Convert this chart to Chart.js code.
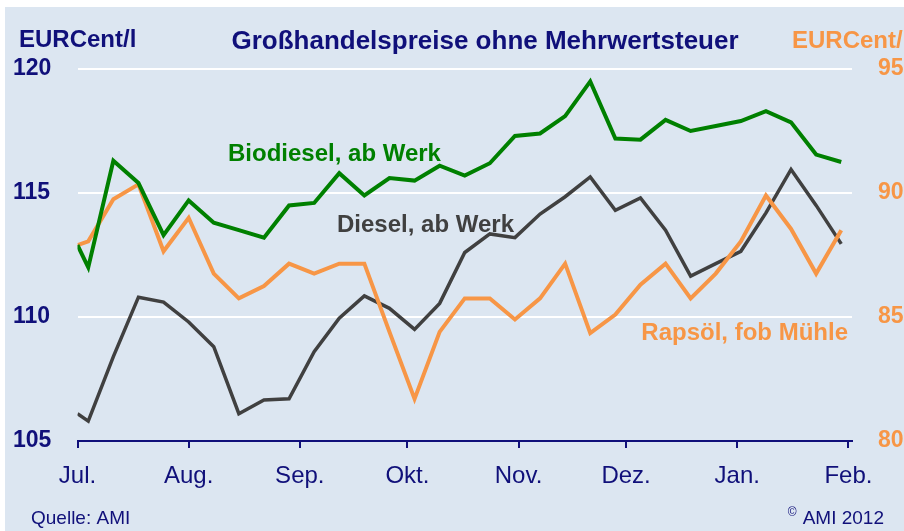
<!DOCTYPE html>
<html>
<head>
<meta charset="utf-8">
<script src="https://cdn.jsdelivr.net/npm/chart.js@4"></script>
<style>
  html, body { margin: 0; padding: 0; background: #fff; }
  #wrap { width: 904px; height: 531px; }
</style>
</head>
<body>
<div id="wrap"><canvas id="myChart" width="904" height="531"></canvas></div>
<script>
// Weekly quotes, first value sits on the left edge (1 July)
const weeks = [
    '2011-07-01', '2011-07-04', '2011-07-11', '2011-07-18', '2011-07-25',
    '2011-08-01', '2011-08-08', '2011-08-15', '2011-08-22', '2011-08-29',
    '2011-09-05', '2011-09-12', '2011-09-19', '2011-09-26',
    '2011-10-03', '2011-10-10', '2011-10-17', '2011-10-24', '2011-10-31',
    '2011-11-07', '2011-11-14', '2011-11-21', '2011-11-28',
    '2011-12-05', '2011-12-12', '2011-12-19', '2011-12-26',
    '2012-01-02', '2012-01-09', '2012-01-16', '2012-01-23', '2012-01-30'
];
const biodiesel = [
    112.9, 112.0, 116.3, 115.4, 113.3, 114.7, 113.8, 113.5, 113.2, 114.5,
    114.6, 115.8, 114.9, 115.6, 115.5, 116.1, 115.7, 116.2, 117.3, 117.4,
    118.1, 119.5, 117.2, 117.15, 117.95, 117.5, 117.7, 117.9, 118.3, 117.85,
    116.55, 116.25
];
const diesel = [
    106.1, 105.8, 108.4, 110.8, 110.6, 109.8, 108.8, 106.1, 106.65, 106.7,
    108.6, 109.95, 110.85, 110.35, 109.5, 110.55, 112.6, 113.35, 113.2, 114.15,
    114.85, 115.65, 114.3, 114.8, 113.5, 111.65, 112.15, 112.65, 114.2, 115.95,
    114.5, 112.95
];
const rapsoel = [
    87.9, 88.05, 89.75, 90.35, 87.65, 89.0, 86.75, 85.75, 86.25, 87.15,
    86.75, 87.15, 87.15, 84.4, 81.7, 84.4, 85.75, 85.75, 84.9, 85.75,
    87.15, 84.35, 85.1, 86.3, 87.15, 85.75, 86.75, 88.05, 89.9, 88.55,
    86.75, 88.5
];
const monthStarts = ['2011-07-01', '2011-08-01', '2011-09-01', '2011-10-01',
    '2011-11-01', '2011-12-01', '2012-01-01', '2012-02-01'];
const monthLabels = ['Jul.', 'Aug.', 'Sep.', 'Okt.', 'Nov.', 'Dez.', 'Jan.', 'Feb.'];
const leftTicks = [105, 110, 115, 120];
const rightTicks = [80, 85, 90, 95];

const NAVY = '#10107a';
const GREEN = '#008000';
const ORANGE = '#f79646';
const GREY = '#404040';
const FONT = '"Liberation Sans", Arial, sans-serif';

const day0 = Date.parse(weeks[0]);
const toDay = s => (Date.parse(s) - day0) / 864e5;
const monthDays = monthStarts.map(toDay);
const pts = arr => arr.map((v, i) => ({ x: toDay(weeks[i]), y: v }));

const texts = {
    id: 'texts',
    beforeDraw(chart) {
        const c = chart.ctx;
        c.save();
        c.fillStyle = '#ffffff';
        c.fillRect(0, 0, chart.width, chart.height);
        c.fillStyle = '#dce6f1';
        c.fillRect(5, 7, chart.width - 5, chart.height - 7);
        c.restore();
    },
    afterDraw(chart) {
        const c = chart.ctx;
        c.save();
        c.textBaseline = 'middle';
        c.textAlign = 'center';
        c.fillStyle = NAVY;
        c.font = 'bold 26px ' + FONT;
        c.fillText('Großhandelspreise ohne Mehrwertsteuer', 485, 42);

        c.textAlign = 'left';
        c.font = 'bold 24px ' + FONT;
        c.fillText('EURCent/l', 19, 40);
        c.fillStyle = ORANGE;
        c.fillText('EURCent/l', 792, 41);

        // series names
        c.textBaseline = 'alphabetic';
        c.fillStyle = GREEN;
        c.fillText('Biodiesel, ab Werk', 228, 161);
        c.fillStyle = GREY;
        c.fillText('Diesel, ab Werk', 337, 232);
        c.fillStyle = ORANGE;
        c.textAlign = 'right';
        c.fillText('Rapsöl, fob Mühle', 848, 340);

        // source line
        c.textBaseline = 'middle';
        c.fillStyle = NAVY;
        c.font = '19px ' + FONT;
        c.textAlign = 'left';
        c.fillText('Quelle: AMI', 31, 519);
        c.textAlign = 'right';
        c.fillText('AMI 2012', 884, 519);
        const w = c.measureText('AMI 2012').width;
        c.font = '12px ' + FONT;
        c.fillText('©', 884 - w - 6, 513);
        c.restore();
    }
};

const ctx = document.getElementById('myChart');
const myChart = new Chart(ctx, {
    type: 'line',
    data: {
        datasets: [{
            label: 'Biodiesel, ab Werk',
            data: pts(biodiesel),
            yAxisID: 'y',
            borderColor: GREEN,
            borderWidth: 4
        }, {
            label: 'Rapsöl, fob Mühle',
            data: pts(rapsoel),
            yAxisID: 'y1',
            borderColor: ORANGE,
            borderWidth: 4
        }, {
            label: 'Diesel, ab Werk',
            data: pts(diesel),
            yAxisID: 'y',
            borderColor: GREY,
            borderWidth: 3.5
        }]
    },
    options: {
        responsive: false,
        animation: false,
        layout: { padding: { left: 13, top: 69, right: 0, bottom: 0 } },
        elements: {
            point: { radius: 0 },
            line: { tension: 0, borderJoinStyle: 'miter', fill: false }
        },
        plugins: {
            legend: { display: false },
            tooltip: { enabled: false }
        },
        scales: {
            x: {
                type: 'linear',
                min: 0,
                max: 216,
                afterBuildTicks: scale => {
                    scale.ticks = monthDays.map(v => ({ value: v }));
                },
                afterFit: scale => { scale.height = 90; },
                grid: {
                    drawOnChartArea: false,
                    color: NAVY,
                    lineWidth: 2,
                    tickLength: 7
                },
                border: { color: NAVY, width: 2 },
                ticks: {
                    autoSkip: false,
                    maxRotation: 0,
                    padding: 14,
                    color: NAVY,
                    font: { family: FONT, size: 24 },
                    callback: value => monthLabels[monthDays.indexOf(value)]
                }
            },
            y: {
                position: 'left',
                min: 105,
                max: 120,
                afterBuildTicks: scale => {
                    scale.ticks = leftTicks.map(v => ({ value: v }));
                },
                afterFit: scale => { scale.width = 64.5; },
                grid: {
                    color: c => (c.tick && c.tick.value === 105 ? 'rgba(0,0,0,0)' : '#ffffff'),
                    lineWidth: 2,
                    drawTicks: false
                },
                border: { display: false },
                ticks: {
                    crossAlign: 'far',
                    color: NAVY,
                    font: { family: FONT, size: 23, weight: 'bold' }
                }
            },
            y1: {
                position: 'right',
                min: 80,
                max: 95,
                afterBuildTicks: scale => {
                    scale.ticks = rightTicks.map(v => ({ value: v }));
                },
                afterFit: scale => { scale.width = 52; },
                grid: { display: false, drawTicks: false },
                border: { display: false },
                ticks: {
                    crossAlign: 'near',
                    padding: 26,
                    color: ORANGE,
                    font: { family: FONT, size: 23, weight: 'bold' }
                }
            }
        }
    },
    plugins: [texts]
});
</script>
</body>
</html>
